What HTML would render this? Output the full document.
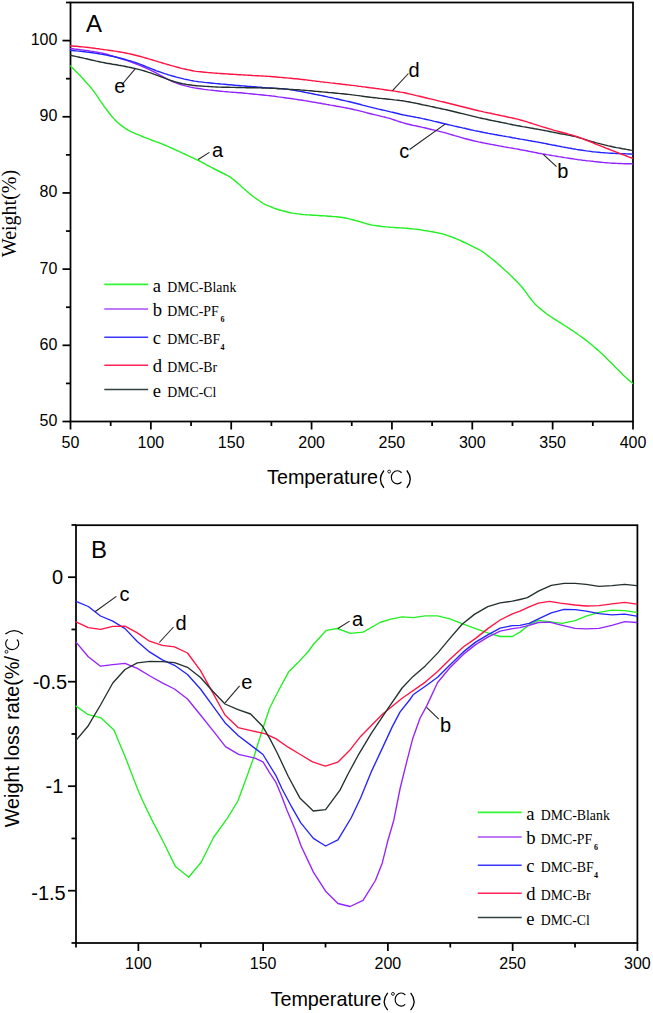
<!DOCTYPE html>
<html><head><meta charset="utf-8"><style>html,body{margin:0;padding:0;background:#fff;}svg{display:block;}</style></head>
<body>
<svg width="653" height="1013" viewBox="0 0 653 1013">
<rect width="653" height="1013" fill="#fff"/>
<rect x="70.5" y="2.5" width="562.5" height="419.0" fill="none" stroke="#000" stroke-width="1.75"/>
<line x1="70.50" y1="421.50" x2="70.50" y2="429.50" stroke="#000" stroke-width="1.75"/>
<text x="70.5" y="448.2" font-family='"Liberation Sans", sans-serif' font-size="16" text-anchor="middle" fill="#000" >50</text>
<line x1="110.68" y1="421.50" x2="110.68" y2="426.00" stroke="#000" stroke-width="1.75"/>
<line x1="150.86" y1="421.50" x2="150.86" y2="429.50" stroke="#000" stroke-width="1.75"/>
<text x="150.9" y="448.2" font-family='"Liberation Sans", sans-serif' font-size="16" text-anchor="middle" fill="#000" >100</text>
<line x1="191.04" y1="421.50" x2="191.04" y2="426.00" stroke="#000" stroke-width="1.75"/>
<line x1="231.21" y1="421.50" x2="231.21" y2="429.50" stroke="#000" stroke-width="1.75"/>
<text x="231.2" y="448.2" font-family='"Liberation Sans", sans-serif' font-size="16" text-anchor="middle" fill="#000" >150</text>
<line x1="271.39" y1="421.50" x2="271.39" y2="426.00" stroke="#000" stroke-width="1.75"/>
<line x1="311.57" y1="421.50" x2="311.57" y2="429.50" stroke="#000" stroke-width="1.75"/>
<text x="311.6" y="448.2" font-family='"Liberation Sans", sans-serif' font-size="16" text-anchor="middle" fill="#000" >200</text>
<line x1="351.75" y1="421.50" x2="351.75" y2="426.00" stroke="#000" stroke-width="1.75"/>
<line x1="391.93" y1="421.50" x2="391.93" y2="429.50" stroke="#000" stroke-width="1.75"/>
<text x="391.9" y="448.2" font-family='"Liberation Sans", sans-serif' font-size="16" text-anchor="middle" fill="#000" >250</text>
<line x1="432.11" y1="421.50" x2="432.11" y2="426.00" stroke="#000" stroke-width="1.75"/>
<line x1="472.29" y1="421.50" x2="472.29" y2="429.50" stroke="#000" stroke-width="1.75"/>
<text x="472.3" y="448.2" font-family='"Liberation Sans", sans-serif' font-size="16" text-anchor="middle" fill="#000" >300</text>
<line x1="512.46" y1="421.50" x2="512.46" y2="426.00" stroke="#000" stroke-width="1.75"/>
<line x1="552.64" y1="421.50" x2="552.64" y2="429.50" stroke="#000" stroke-width="1.75"/>
<text x="552.6" y="448.2" font-family='"Liberation Sans", sans-serif' font-size="16" text-anchor="middle" fill="#000" >350</text>
<line x1="592.82" y1="421.50" x2="592.82" y2="426.00" stroke="#000" stroke-width="1.75"/>
<line x1="633.00" y1="421.50" x2="633.00" y2="429.50" stroke="#000" stroke-width="1.75"/>
<text x="633.0" y="448.2" font-family='"Liberation Sans", sans-serif' font-size="16" text-anchor="middle" fill="#000" >400</text>
<line x1="62.50" y1="421.50" x2="70.50" y2="421.50" stroke="#000" stroke-width="1.75"/>
<text x="57.4" y="425.9" font-family='"Liberation Sans", sans-serif' font-size="16" text-anchor="end" fill="#000" >50</text>
<line x1="66.00" y1="383.41" x2="70.50" y2="383.41" stroke="#000" stroke-width="1.75"/>
<line x1="62.50" y1="345.32" x2="70.50" y2="345.32" stroke="#000" stroke-width="1.75"/>
<text x="57.4" y="349.7" font-family='"Liberation Sans", sans-serif' font-size="16" text-anchor="end" fill="#000" >60</text>
<line x1="66.00" y1="307.23" x2="70.50" y2="307.23" stroke="#000" stroke-width="1.75"/>
<line x1="62.50" y1="269.14" x2="70.50" y2="269.14" stroke="#000" stroke-width="1.75"/>
<text x="57.4" y="273.5" font-family='"Liberation Sans", sans-serif' font-size="16" text-anchor="end" fill="#000" >70</text>
<line x1="66.00" y1="231.05" x2="70.50" y2="231.05" stroke="#000" stroke-width="1.75"/>
<line x1="62.50" y1="192.95" x2="70.50" y2="192.95" stroke="#000" stroke-width="1.75"/>
<text x="57.4" y="197.4" font-family='"Liberation Sans", sans-serif' font-size="16" text-anchor="end" fill="#000" >80</text>
<line x1="66.00" y1="154.86" x2="70.50" y2="154.86" stroke="#000" stroke-width="1.75"/>
<line x1="62.50" y1="116.77" x2="70.50" y2="116.77" stroke="#000" stroke-width="1.75"/>
<text x="57.4" y="121.2" font-family='"Liberation Sans", sans-serif' font-size="16" text-anchor="end" fill="#000" >90</text>
<line x1="66.00" y1="78.68" x2="70.50" y2="78.68" stroke="#000" stroke-width="1.75"/>
<line x1="62.50" y1="40.59" x2="70.50" y2="40.59" stroke="#000" stroke-width="1.75"/>
<text x="57.4" y="45.0" font-family='"Liberation Sans", sans-serif' font-size="16" text-anchor="end" fill="#000" >100</text>
<line x1="66.00" y1="2.50" x2="70.50" y2="2.50" stroke="#000" stroke-width="1.75"/>
<text x="86" y="31.5" font-family='"Liberation Sans", sans-serif' font-size="24" text-anchor="start" fill="#000" >A</text>
<text x="267.0" y="484.1" font-family='"Liberation Sans", sans-serif' font-size="19.8" text-anchor="start" fill="#000" >Temperature</text>
<path d="M383.90,470.50 Q376.90,479.30 383.90,487.90" fill="none" stroke="#000" stroke-width="1.3"/>
<circle cx="389.15" cy="471.60" r="1.45" fill="none" stroke="#000" stroke-width="0.85"/>
<path d="M401.58,472.75 A5.95,6.55 0 1 0 401.43,482.01" fill="none" stroke="#000" stroke-width="1.15"/>
<path d="M406.80,470.50 Q413.80,479.30 406.80,487.90" fill="none" stroke="#000" stroke-width="1.3"/>
<text transform="translate(15.6,213.5) rotate(-90)" font-family='"Liberation Serif", serif' font-size="20" text-anchor="middle">Weight(%)</text>
<polyline points="70.5,66.0 72.5,68.0 74.5,70.0 76.5,72.0 78.5,74.0 80.5,76.1 82.5,78.3 84.5,80.5 86.5,82.7 88.5,84.9 90.5,87.2 92.5,89.6 94.5,92.3 96.5,95.2 98.5,98.1 100.5,101.1 102.5,103.9 104.5,106.8 106.5,109.5 108.5,112.2 110.5,114.7 112.5,117.1 114.5,119.4 116.5,121.5 118.5,123.3 120.5,124.9 122.5,126.4 124.5,127.8 126.5,129.1 128.5,130.3 130.5,131.4 132.5,132.4 134.5,133.2 136.5,134.1 138.5,134.8 140.5,135.6 142.5,136.5 144.5,137.3 146.5,138.1 148.5,138.9 150.5,139.7 152.5,140.5 154.5,141.2 156.5,141.9 158.5,142.6 160.5,143.3 162.5,144.1 164.5,145.0 166.5,145.9 168.5,146.7 170.5,147.6 172.5,148.5 174.5,149.4 176.5,150.3 178.5,151.2 180.5,152.2 182.5,153.1 184.5,154.0 186.5,154.9 188.5,155.9 190.5,156.8 192.5,157.7 194.5,158.6 196.5,159.6 198.5,160.5 200.5,161.5 202.5,162.6 204.5,163.7 206.5,164.8 208.5,165.8 210.5,166.9 212.5,168.0 214.5,169.0 216.5,170.0 218.5,171.0 220.5,172.0 222.5,173.0 224.5,174.0 226.5,175.0 228.5,176.1 230.5,177.4 232.5,178.8 234.5,180.4 236.5,182.1 238.5,183.8 240.5,185.6 242.5,187.4 244.5,189.2 246.5,191.0 248.5,192.7 250.5,194.4 252.5,196.0 254.5,197.5 256.5,198.9 258.5,200.3 260.5,201.7 262.5,203.0 264.5,204.1 266.5,205.1 268.5,205.9 270.5,206.7 272.5,207.5 274.5,208.3 276.5,209.0 278.5,209.7 280.5,210.2 282.5,210.8 284.5,211.3 286.5,211.8 288.5,212.3 290.5,212.7 292.5,213.1 294.5,213.4 296.5,213.7 298.5,213.9 300.5,214.2 302.5,214.5 304.5,214.6 306.5,214.8 308.5,214.9 310.5,215.0 312.5,215.2 314.5,215.3 316.5,215.4 318.5,215.5 320.5,215.7 322.5,215.8 324.5,215.9 326.5,216.0 328.5,216.2 330.5,216.3 332.5,216.5 334.5,216.6 336.5,216.8 338.5,217.0 340.5,217.2 342.5,217.5 344.5,217.8 346.5,218.2 348.5,218.6 350.5,219.2 352.5,219.7 354.5,220.2 356.5,220.8 358.5,221.3 360.5,221.9 362.5,222.5 364.5,223.1 366.5,223.7 368.5,224.2 370.5,224.7 372.5,225.1 374.5,225.4 376.5,225.7 378.5,226.0 380.5,226.3 382.5,226.6 384.5,226.8 386.5,226.9 388.5,227.1 390.5,227.3 392.5,227.4 394.5,227.5 396.5,227.7 398.5,227.8 400.5,227.9 402.5,228.0 404.5,228.1 406.5,228.3 408.5,228.5 410.5,228.7 412.5,228.9 414.5,229.1 416.5,229.3 418.5,229.5 420.5,229.8 422.5,230.1 424.5,230.5 426.5,230.8 428.5,231.1 430.5,231.5 432.5,231.8 434.5,232.2 436.5,232.6 438.5,233.0 440.5,233.4 442.5,233.9 444.5,234.5 446.5,235.2 448.5,235.8 450.5,236.5 452.5,237.2 454.5,238.0 456.5,238.8 458.5,239.7 460.5,240.6 462.5,241.5 464.5,242.5 466.5,243.4 468.5,244.4 470.5,245.4 472.5,246.4 474.5,247.4 476.5,248.4 478.5,249.4 480.5,250.5 482.5,251.7 484.5,253.0 486.5,254.5 488.5,256.1 490.5,257.7 492.5,259.3 494.5,260.9 496.5,262.6 498.5,264.4 500.5,266.1 502.5,267.9 504.5,269.7 506.5,271.5 508.5,273.3 510.5,275.3 512.5,277.2 514.5,279.2 516.5,281.3 518.5,283.3 520.5,285.4 522.5,287.8 524.5,290.3 526.5,293.1 528.5,295.8 530.5,298.5 532.5,301.1 534.5,303.4 536.5,305.5 538.5,307.3 540.5,308.9 542.5,310.5 544.5,312.1 546.5,313.7 548.5,315.1 550.5,316.5 552.5,317.8 554.5,319.1 556.5,320.4 558.5,321.6 560.5,322.9 562.5,324.2 564.5,325.5 566.5,326.7 568.5,328.0 570.5,329.3 572.5,330.6 574.5,332.0 576.5,333.3 578.5,334.8 580.5,336.2 582.5,337.6 584.5,339.1 586.5,340.6 588.5,342.2 590.5,343.8 592.5,345.5 594.5,347.2 596.5,348.9 598.5,350.6 600.5,352.4 602.5,354.3 604.5,356.3 606.5,358.3 608.5,360.3 610.5,362.3 612.5,364.3 614.5,366.3 616.5,368.3 618.5,370.3 620.5,372.3 622.5,374.3 624.5,376.2 626.5,378.1 628.5,379.9 630.5,381.5 632.5,383.2" fill="none" stroke="#22f022" stroke-width="1.4" stroke-linejoin="round" stroke-linecap="round"/>
<polyline points="70.5,48.5 72.5,48.7 74.5,49.0 76.5,49.2 78.5,49.4 80.5,49.7 82.5,49.9 84.5,50.2 86.5,50.4 88.5,50.7 90.5,51.1 92.5,51.4 94.5,51.8 96.5,52.1 98.5,52.5 100.5,52.9 102.5,53.3 104.5,53.8 106.5,54.3 108.5,54.8 110.5,55.4 112.5,56.0 114.5,56.6 116.5,57.2 118.5,57.9 120.5,58.5 122.5,59.1 124.5,59.8 126.5,60.4 128.5,61.1 130.5,61.8 132.5,62.5 134.5,63.3 136.5,64.0 138.5,64.8 140.5,65.7 142.5,66.5 144.5,67.4 146.5,68.3 148.5,69.2 150.5,70.2 152.5,71.2 154.5,72.2 156.5,73.2 158.5,74.3 160.5,75.4 162.5,76.4 164.5,77.5 166.5,78.6 168.5,79.6 170.5,80.6 172.5,81.5 174.5,82.4 176.5,83.2 178.5,83.9 180.5,84.5 182.5,85.1 184.5,85.6 186.5,86.1 188.5,86.6 190.5,87.1 192.5,87.5 194.5,87.9 196.5,88.2 198.5,88.5 200.5,88.8 202.5,89.1 204.5,89.4 206.5,89.6 208.5,89.9 210.5,90.1 212.5,90.3 214.5,90.6 216.5,90.8 218.5,91.0 220.5,91.2 222.5,91.4 224.5,91.6 226.5,91.7 228.5,91.9 230.5,92.1 232.5,92.2 234.5,92.4 236.5,92.5 238.5,92.7 240.5,92.8 242.5,93.0 244.5,93.2 246.5,93.4 248.5,93.6 250.5,93.8 252.5,94.0 254.5,94.2 256.5,94.4 258.5,94.6 260.5,94.8 262.5,95.0 264.5,95.2 266.5,95.4 268.5,95.6 270.5,95.8 272.5,96.1 274.5,96.3 276.5,96.6 278.5,96.9 280.5,97.1 282.5,97.4 284.5,97.7 286.5,98.0 288.5,98.2 290.5,98.5 292.5,98.8 294.5,99.1 296.5,99.4 298.5,99.7 300.5,100.0 302.5,100.3 304.5,100.6 306.5,100.9 308.5,101.3 310.5,101.6 312.5,102.0 314.5,102.3 316.5,102.6 318.5,103.0 320.5,103.3 322.5,103.7 324.5,104.0 326.5,104.4 328.5,104.7 330.5,105.1 332.5,105.4 334.5,105.8 336.5,106.2 338.5,106.5 340.5,106.9 342.5,107.3 344.5,107.6 346.5,108.0 348.5,108.4 350.5,108.8 352.5,109.2 354.5,109.7 356.5,110.1 358.5,110.6 360.5,111.1 362.5,111.6 364.5,112.1 366.5,112.7 368.5,113.2 370.5,113.7 372.5,114.2 374.5,114.6 376.5,115.1 378.5,115.6 380.5,116.1 382.5,116.6 384.5,117.0 386.5,117.6 388.5,118.1 390.5,118.7 392.5,119.3 394.5,120.0 396.5,120.7 398.5,121.3 400.5,122.0 402.5,122.6 404.5,123.2 406.5,123.7 408.5,124.2 410.5,124.7 412.5,125.2 414.5,125.6 416.5,126.0 418.5,126.5 420.5,126.9 422.5,127.4 424.5,127.8 426.5,128.3 428.5,128.8 430.5,129.2 432.5,129.7 434.5,130.1 436.5,130.6 438.5,131.1 440.5,131.6 442.5,132.1 444.5,132.6 446.5,133.2 448.5,133.8 450.5,134.4 452.5,135.0 454.5,135.6 456.5,136.1 458.5,136.7 460.5,137.3 462.5,137.9 464.5,138.5 466.5,139.0 468.5,139.5 470.5,140.0 472.5,140.5 474.5,141.0 476.5,141.4 478.5,141.9 480.5,142.3 482.5,142.7 484.5,143.1 486.5,143.5 488.5,143.9 490.5,144.3 492.5,144.6 494.5,145.0 496.5,145.4 498.5,145.8 500.5,146.1 502.5,146.5 504.5,146.9 506.5,147.2 508.5,147.6 510.5,147.9 512.5,148.2 514.5,148.6 516.5,148.9 518.5,149.3 520.5,149.7 522.5,150.0 524.5,150.4 526.5,150.8 528.5,151.2 530.5,151.6 532.5,152.0 534.5,152.4 536.5,152.8 538.5,153.2 540.5,153.5 542.5,153.9 544.5,154.2 546.5,154.6 548.5,154.9 550.5,155.2 552.5,155.6 554.5,155.9 556.5,156.2 558.5,156.6 560.5,156.9 562.5,157.2 564.5,157.6 566.5,157.9 568.5,158.2 570.5,158.5 572.5,158.8 574.5,159.1 576.5,159.4 578.5,159.7 580.5,159.9 582.5,160.2 584.5,160.4 586.5,160.7 588.5,160.9 590.5,161.1 592.5,161.3 594.5,161.6 596.5,161.8 598.5,162.0 600.5,162.2 602.5,162.4 604.5,162.6 606.5,162.7 608.5,162.9 610.5,163.1 612.5,163.2 614.5,163.3 616.5,163.4 618.5,163.5 620.5,163.5 622.5,163.6 624.5,163.7 626.5,163.7 628.5,163.8 630.5,163.8 632.5,163.9" fill="none" stroke="#9424ff" stroke-width="1.4" stroke-linejoin="round" stroke-linecap="round"/>
<polyline points="70.5,50.3 72.5,50.5 74.5,50.7 76.5,50.9 78.5,51.1 80.5,51.3 82.5,51.5 84.5,51.7 86.5,52.0 88.5,52.2 90.5,52.5 92.5,52.8 94.5,53.1 96.5,53.4 98.5,53.7 100.5,54.1 102.5,54.4 104.5,54.8 106.5,55.1 108.5,55.5 110.5,56.0 112.5,56.4 114.5,56.8 116.5,57.3 118.5,57.7 120.5,58.2 122.5,58.7 124.5,59.2 126.5,59.8 128.5,60.4 130.5,60.9 132.5,61.6 134.5,62.2 136.5,62.9 138.5,63.7 140.5,64.4 142.5,65.2 144.5,66.0 146.5,66.8 148.5,67.6 150.5,68.4 152.5,69.2 154.5,70.0 156.5,70.8 158.5,71.5 160.5,72.2 162.5,72.9 164.5,73.6 166.5,74.2 168.5,74.8 170.5,75.4 172.5,76.0 174.5,76.5 176.5,77.1 178.5,77.6 180.5,78.1 182.5,78.6 184.5,79.1 186.5,79.5 188.5,79.9 190.5,80.4 192.5,80.7 194.5,81.1 196.5,81.4 198.5,81.7 200.5,81.9 202.5,82.1 204.5,82.4 206.5,82.6 208.5,82.8 210.5,83.0 212.5,83.2 214.5,83.4 216.5,83.6 218.5,83.8 220.5,84.0 222.5,84.1 224.5,84.3 226.5,84.5 228.5,84.7 230.5,84.8 232.5,85.0 234.5,85.2 236.5,85.4 238.5,85.5 240.5,85.7 242.5,85.9 244.5,86.0 246.5,86.2 248.5,86.4 250.5,86.5 252.5,86.7 254.5,86.8 256.5,87.0 258.5,87.2 260.5,87.3 262.5,87.5 264.5,87.6 266.5,87.8 268.5,87.9 270.5,88.0 272.5,88.2 274.5,88.3 276.5,88.4 278.5,88.5 280.5,88.6 282.5,88.7 284.5,88.9 286.5,89.1 288.5,89.4 290.5,89.7 292.5,90.0 294.5,90.3 296.5,90.7 298.5,91.1 300.5,91.4 302.5,91.8 304.5,92.2 306.5,92.6 308.5,93.0 310.5,93.4 312.5,93.8 314.5,94.2 316.5,94.6 318.5,95.0 320.5,95.4 322.5,95.8 324.5,96.2 326.5,96.6 328.5,97.1 330.5,97.5 332.5,97.9 334.5,98.4 336.5,98.8 338.5,99.2 340.5,99.7 342.5,100.2 344.5,100.6 346.5,101.1 348.5,101.5 350.5,102.0 352.5,102.5 354.5,103.0 356.5,103.5 358.5,104.0 360.5,104.5 362.5,105.1 364.5,105.6 366.5,106.1 368.5,106.6 370.5,107.1 372.5,107.6 374.5,108.1 376.5,108.6 378.5,109.1 380.5,109.5 382.5,110.0 384.5,110.4 386.5,110.9 388.5,111.4 390.5,111.9 392.5,112.3 394.5,112.8 396.5,113.3 398.5,113.8 400.5,114.3 402.5,114.7 404.5,115.1 406.5,115.5 408.5,115.9 410.5,116.3 412.5,116.6 414.5,117.0 416.5,117.4 418.5,117.7 420.5,118.1 422.5,118.6 424.5,119.0 426.5,119.5 428.5,119.9 430.5,120.4 432.5,120.9 434.5,121.4 436.5,121.8 438.5,122.3 440.5,122.8 442.5,123.3 444.5,123.7 446.5,124.2 448.5,124.7 450.5,125.1 452.5,125.6 454.5,126.1 456.5,126.5 458.5,127.0 460.5,127.4 462.5,127.9 464.5,128.3 466.5,128.8 468.5,129.2 470.5,129.7 472.5,130.1 474.5,130.6 476.5,131.0 478.5,131.4 480.5,131.8 482.5,132.2 484.5,132.6 486.5,133.0 488.5,133.4 490.5,133.7 492.5,134.1 494.5,134.5 496.5,134.8 498.5,135.2 500.5,135.5 502.5,135.9 504.5,136.2 506.5,136.6 508.5,136.9 510.5,137.3 512.5,137.7 514.5,138.0 516.5,138.4 518.5,138.7 520.5,139.1 522.5,139.4 524.5,139.8 526.5,140.1 528.5,140.5 530.5,140.8 532.5,141.2 534.5,141.5 536.5,141.9 538.5,142.3 540.5,142.6 542.5,143.0 544.5,143.4 546.5,143.8 548.5,144.2 550.5,144.6 552.5,145.0 554.5,145.3 556.5,145.7 558.5,146.1 560.5,146.5 562.5,146.9 564.5,147.2 566.5,147.6 568.5,148.0 570.5,148.3 572.5,148.7 574.5,149.0 576.5,149.4 578.5,149.7 580.5,150.0 582.5,150.3 584.5,150.6 586.5,150.9 588.5,151.1 590.5,151.4 592.5,151.7 594.5,151.9 596.5,152.1 598.5,152.3 600.5,152.5 602.5,152.6 604.5,152.8 606.5,152.9 608.5,153.1 610.5,153.2 612.5,153.3 614.5,153.4 616.5,153.5 618.5,153.6 620.5,153.7 622.5,153.8 624.5,153.8 626.5,153.9 628.5,154.0 630.5,154.0 632.5,154.1" fill="none" stroke="#2424ff" stroke-width="1.4" stroke-linejoin="round" stroke-linecap="round"/>
<polyline points="70.5,55.2 72.5,55.7 74.5,56.1 76.5,56.6 78.5,57.0 80.5,57.5 82.5,57.9 84.5,58.4 86.5,58.8 88.5,59.3 90.5,59.7 92.5,60.2 94.5,60.6 96.5,61.1 98.5,61.5 100.5,62.0 102.5,62.4 104.5,62.8 106.5,63.2 108.5,63.5 110.5,63.8 112.5,64.2 114.5,64.5 116.5,64.8 118.5,65.2 120.5,65.5 122.5,65.9 124.5,66.3 126.5,66.7 128.5,67.1 130.5,67.5 132.5,68.0 134.5,68.4 136.5,68.9 138.5,69.4 140.5,69.9 142.5,70.4 144.5,71.0 146.5,71.6 148.5,72.3 150.5,72.9 152.5,73.6 154.5,74.4 156.5,75.1 158.5,75.8 160.5,76.6 162.5,77.4 164.5,78.1 166.5,78.9 168.5,79.6 170.5,80.3 172.5,81.0 174.5,81.6 176.5,82.2 178.5,82.7 180.5,83.2 182.5,83.7 184.5,84.0 186.5,84.4 188.5,84.7 190.5,85.0 192.5,85.3 194.5,85.5 196.5,85.7 198.5,85.9 200.5,86.0 202.5,86.1 204.5,86.3 206.5,86.4 208.5,86.5 210.5,86.6 212.5,86.8 214.5,86.9 216.5,87.0 218.5,87.1 220.5,87.1 222.5,87.2 224.5,87.3 226.5,87.3 228.5,87.3 230.5,87.4 232.5,87.4 234.5,87.4 236.5,87.5 238.5,87.5 240.5,87.5 242.5,87.6 244.5,87.6 246.5,87.7 248.5,87.7 250.5,87.7 252.5,87.8 254.5,87.8 256.5,87.8 258.5,87.9 260.5,87.9 262.5,88.0 264.5,88.0 266.5,88.1 268.5,88.1 270.5,88.2 272.5,88.3 274.5,88.4 276.5,88.5 278.5,88.7 280.5,88.8 282.5,88.9 284.5,89.0 286.5,89.1 288.5,89.3 290.5,89.4 292.5,89.5 294.5,89.6 296.5,89.7 298.5,89.8 300.5,90.0 302.5,90.1 304.5,90.3 306.5,90.4 308.5,90.6 310.5,90.8 312.5,91.0 314.5,91.2 316.5,91.4 318.5,91.5 320.5,91.7 322.5,91.9 324.5,92.1 326.5,92.3 328.5,92.5 330.5,92.6 332.5,92.8 334.5,93.0 336.5,93.2 338.5,93.4 340.5,93.6 342.5,93.8 344.5,94.0 346.5,94.2 348.5,94.4 350.5,94.6 352.5,94.9 354.5,95.1 356.5,95.4 358.5,95.6 360.5,95.9 362.5,96.2 364.5,96.5 366.5,96.7 368.5,97.0 370.5,97.3 372.5,97.5 374.5,97.7 376.5,97.9 378.5,98.2 380.5,98.4 382.5,98.6 384.5,98.8 386.5,99.0 388.5,99.2 390.5,99.4 392.5,99.6 394.5,99.9 396.5,100.1 398.5,100.3 400.5,100.6 402.5,100.8 404.5,101.1 406.5,101.5 408.5,101.8 410.5,102.2 412.5,102.6 414.5,103.0 416.5,103.4 418.5,103.8 420.5,104.2 422.5,104.7 424.5,105.1 426.5,105.5 428.5,105.9 430.5,106.4 432.5,106.8 434.5,107.2 436.5,107.7 438.5,108.1 440.5,108.5 442.5,109.0 444.5,109.4 446.5,109.8 448.5,110.3 450.5,110.7 452.5,111.2 454.5,111.7 456.5,112.2 458.5,112.7 460.5,113.2 462.5,113.6 464.5,114.1 466.5,114.6 468.5,115.1 470.5,115.6 472.5,116.1 474.5,116.6 476.5,117.1 478.5,117.6 480.5,118.0 482.5,118.5 484.5,118.9 486.5,119.3 488.5,119.8 490.5,120.2 492.5,120.6 494.5,121.0 496.5,121.4 498.5,121.8 500.5,122.2 502.5,122.6 504.5,123.0 506.5,123.4 508.5,123.9 510.5,124.3 512.5,124.7 514.5,125.1 516.5,125.5 518.5,125.8 520.5,126.2 522.5,126.6 524.5,126.9 526.5,127.3 528.5,127.6 530.5,128.0 532.5,128.3 534.5,128.7 536.5,129.0 538.5,129.4 540.5,129.8 542.5,130.1 544.5,130.5 546.5,130.9 548.5,131.3 550.5,131.7 552.5,132.1 554.5,132.5 556.5,132.9 558.5,133.3 560.5,133.7 562.5,134.0 564.5,134.4 566.5,134.8 568.5,135.1 570.5,135.5 572.5,136.0 574.5,136.4 576.5,136.9 578.5,137.5 580.5,138.1 582.5,138.7 584.5,139.3 586.5,139.9 588.5,140.6 590.5,141.2 592.5,141.8 594.5,142.3 596.5,142.9 598.5,143.4 600.5,143.9 602.5,144.4 604.5,144.9 606.5,145.4 608.5,145.9 610.5,146.3 612.5,146.8 614.5,147.2 616.5,147.6 618.5,147.9 620.5,148.3 622.5,148.7 624.5,149.0 626.5,149.4 628.5,149.7 630.5,150.1 632.5,150.4" fill="none" stroke="#243030" stroke-width="1.4" stroke-linejoin="round" stroke-linecap="round"/>
<polyline points="70.5,45.8 72.5,46.0 74.5,46.2 76.5,46.3 78.5,46.5 80.5,46.7 82.5,46.9 84.5,47.1 86.5,47.3 88.5,47.5 90.5,47.8 92.5,48.0 94.5,48.3 96.5,48.6 98.5,48.8 100.5,49.1 102.5,49.4 104.5,49.7 106.5,49.9 108.5,50.2 110.5,50.5 112.5,50.8 114.5,51.1 116.5,51.4 118.5,51.7 120.5,52.0 122.5,52.4 124.5,52.8 126.5,53.2 128.5,53.6 130.5,54.0 132.5,54.5 134.5,55.0 136.5,55.5 138.5,56.0 140.5,56.5 142.5,57.1 144.5,57.7 146.5,58.2 148.5,58.8 150.5,59.4 152.5,60.0 154.5,60.6 156.5,61.2 158.5,61.8 160.5,62.4 162.5,63.0 164.5,63.6 166.5,64.2 168.5,64.7 170.5,65.3 172.5,65.9 174.5,66.4 176.5,67.0 178.5,67.5 180.5,68.1 182.5,68.6 184.5,69.0 186.5,69.5 188.5,69.9 190.5,70.3 192.5,70.7 194.5,71.1 196.5,71.4 198.5,71.6 200.5,71.8 202.5,72.0 204.5,72.2 206.5,72.4 208.5,72.6 210.5,72.7 212.5,72.9 214.5,73.1 216.5,73.2 218.5,73.4 220.5,73.5 222.5,73.7 224.5,73.8 226.5,73.9 228.5,74.0 230.5,74.2 232.5,74.3 234.5,74.4 236.5,74.5 238.5,74.7 240.5,74.8 242.5,74.9 244.5,75.0 246.5,75.1 248.5,75.2 250.5,75.3 252.5,75.5 254.5,75.6 256.5,75.7 258.5,75.8 260.5,75.9 262.5,76.0 264.5,76.1 266.5,76.2 268.5,76.4 270.5,76.5 272.5,76.7 274.5,76.8 276.5,77.0 278.5,77.2 280.5,77.4 282.5,77.5 284.5,77.7 286.5,77.9 288.5,78.1 290.5,78.3 292.5,78.5 294.5,78.7 296.5,78.8 298.5,79.0 300.5,79.3 302.5,79.5 304.5,79.7 306.5,79.9 308.5,80.2 310.5,80.4 312.5,80.7 314.5,80.9 316.5,81.2 318.5,81.4 320.5,81.7 322.5,81.9 324.5,82.2 326.5,82.4 328.5,82.6 330.5,82.9 332.5,83.1 334.5,83.3 336.5,83.6 338.5,83.8 340.5,84.0 342.5,84.3 344.5,84.5 346.5,84.7 348.5,84.9 350.5,85.2 352.5,85.4 354.5,85.6 356.5,85.9 358.5,86.2 360.5,86.4 362.5,86.7 364.5,86.9 366.5,87.2 368.5,87.5 370.5,87.8 372.5,88.0 374.5,88.3 376.5,88.6 378.5,88.8 380.5,89.1 382.5,89.4 384.5,89.7 386.5,90.0 388.5,90.3 390.5,90.5 392.5,90.8 394.5,91.1 396.5,91.4 398.5,91.7 400.5,92.1 402.5,92.4 404.5,92.8 406.5,93.2 408.5,93.7 410.5,94.1 412.5,94.6 414.5,95.1 416.5,95.6 418.5,96.0 420.5,96.5 422.5,97.0 424.5,97.5 426.5,98.0 428.5,98.5 430.5,98.9 432.5,99.4 434.5,99.9 436.5,100.4 438.5,100.9 440.5,101.4 442.5,101.8 444.5,102.3 446.5,102.8 448.5,103.3 450.5,103.8 452.5,104.3 454.5,104.8 456.5,105.3 458.5,105.8 460.5,106.3 462.5,106.7 464.5,107.2 466.5,107.7 468.5,108.2 470.5,108.7 472.5,109.2 474.5,109.7 476.5,110.2 478.5,110.7 480.5,111.1 482.5,111.6 484.5,112.1 486.5,112.5 488.5,112.9 490.5,113.3 492.5,113.8 494.5,114.2 496.5,114.6 498.5,115.0 500.5,115.5 502.5,115.9 504.5,116.3 506.5,116.7 508.5,117.2 510.5,117.6 512.5,118.0 514.5,118.5 516.5,118.9 518.5,119.4 520.5,120.0 522.5,120.5 524.5,121.1 526.5,121.7 528.5,122.4 530.5,123.0 532.5,123.7 534.5,124.3 536.5,124.9 538.5,125.6 540.5,126.2 542.5,126.8 544.5,127.4 546.5,128.0 548.5,128.6 550.5,129.2 552.5,129.8 554.5,130.4 556.5,130.9 558.5,131.5 560.5,132.0 562.5,132.5 564.5,133.0 566.5,133.5 568.5,134.1 570.5,134.6 572.5,135.2 574.5,135.8 576.5,136.5 578.5,137.2 580.5,137.9 582.5,138.7 584.5,139.5 586.5,140.3 588.5,141.1 590.5,141.9 592.5,142.7 594.5,143.5 596.5,144.3 598.5,145.1 600.5,145.9 602.5,146.7 604.5,147.5 606.5,148.3 608.5,149.0 610.5,149.8 612.5,150.6 614.5,151.4 616.5,152.2 618.5,152.9 620.5,153.7 622.5,154.5 624.5,155.2 626.5,156.0 628.5,156.8 630.5,157.5 632.5,158.3" fill="none" stroke="#ff1444" stroke-width="1.4" stroke-linejoin="round" stroke-linecap="round"/>
<line x1="135.50" y1="68.40" x2="122.10" y2="84.50" stroke="#222" stroke-width="1.1"/>
<line x1="198.20" y1="159.50" x2="209.40" y2="152.40" stroke="#222" stroke-width="1.1"/>
<line x1="392.50" y1="90.60" x2="408.40" y2="73.50" stroke="#222" stroke-width="1.1"/>
<line x1="445.10" y1="124.10" x2="409.60" y2="149.50" stroke="#222" stroke-width="1.1"/>
<line x1="543.00" y1="154.10" x2="556.50" y2="166.60" stroke="#222" stroke-width="1.1"/>
<text x="114.2" y="93.0" font-family='"Liberation Sans", sans-serif' font-size="20" text-anchor="start" fill="#000" >e</text>
<text x="212.0" y="157.0" font-family='"Liberation Sans", sans-serif' font-size="20" text-anchor="start" fill="#000" >a</text>
<text x="408.5" y="77.3" font-family='"Liberation Sans", sans-serif' font-size="20" text-anchor="start" fill="#000" >d</text>
<text x="399.3" y="158.0" font-family='"Liberation Sans", sans-serif' font-size="20" text-anchor="start" fill="#000" >c</text>
<text x="557.3" y="178.3" font-family='"Liberation Sans", sans-serif' font-size="20" text-anchor="start" fill="#000" >b</text>
<line x1="104.30" y1="284.40" x2="148.20" y2="284.40" stroke="#33f533" stroke-width="1.6"/>
<text x="152.8" y="291.5" font-family='"Liberation Serif", serif' font-size="18.6" text-anchor="start" fill="#000" >a</text>
<text x="167.3" y="291.5" font-family='"Liberation Serif", serif' font-size="13.8" text-anchor="start" fill="#000" >DMC-Blank</text>
<line x1="104.30" y1="309.00" x2="148.20" y2="309.00" stroke="#a84cff" stroke-width="1.6"/>
<text x="152.8" y="316.0" font-family='"Liberation Serif", serif' font-size="18.6" text-anchor="start" fill="#000" >b</text>
<text x="167.3" y="316.0" font-family='"Liberation Serif", serif' font-size="13.8" text-anchor="start" fill="#000" >DMC-PF</text>
<text x="220.4" y="321.6" font-family='"Liberation Serif", serif' font-size="8" text-anchor="start" fill="#000" font-weight="bold">6</text>
<line x1="104.30" y1="337.20" x2="148.20" y2="337.20" stroke="#3838ff" stroke-width="1.6"/>
<text x="152.8" y="344.3" font-family='"Liberation Serif", serif' font-size="18.6" text-anchor="start" fill="#000" >c</text>
<text x="167.3" y="344.3" font-family='"Liberation Serif", serif' font-size="13.8" text-anchor="start" fill="#000" >DMC-BF</text>
<text x="220.4" y="349.9" font-family='"Liberation Serif", serif' font-size="8" text-anchor="start" fill="#000" font-weight="bold">4</text>
<line x1="104.30" y1="365.30" x2="148.20" y2="365.30" stroke="#ff2458" stroke-width="1.6"/>
<text x="152.8" y="372.4" font-family='"Liberation Serif", serif' font-size="18.6" text-anchor="start" fill="#000" >d</text>
<text x="167.3" y="372.4" font-family='"Liberation Serif", serif' font-size="13.8" text-anchor="start" fill="#000" >DMC-Br</text>
<line x1="104.30" y1="389.50" x2="148.20" y2="389.50" stroke="#334040" stroke-width="1.6"/>
<text x="152.8" y="397.0" font-family='"Liberation Serif", serif' font-size="18.6" text-anchor="start" fill="#000" >e</text>
<text x="167.3" y="397.0" font-family='"Liberation Serif", serif' font-size="13.8" text-anchor="start" fill="#000" >DMC-Cl</text>
<rect x="76.0" y="525.2" width="561.4" height="417.79999999999995" fill="none" stroke="#000" stroke-width="1.75"/>
<line x1="76.00" y1="943.00" x2="76.00" y2="947.50" stroke="#000" stroke-width="1.75"/>
<line x1="138.38" y1="943.00" x2="138.38" y2="951.00" stroke="#000" stroke-width="1.75"/>
<text x="138.4" y="969.3" font-family='"Liberation Sans", sans-serif' font-size="16" text-anchor="middle" fill="#000" >100</text>
<line x1="200.76" y1="943.00" x2="200.76" y2="947.50" stroke="#000" stroke-width="1.75"/>
<line x1="263.13" y1="943.00" x2="263.13" y2="951.00" stroke="#000" stroke-width="1.75"/>
<text x="263.1" y="969.3" font-family='"Liberation Sans", sans-serif' font-size="16" text-anchor="middle" fill="#000" >150</text>
<line x1="325.51" y1="943.00" x2="325.51" y2="947.50" stroke="#000" stroke-width="1.75"/>
<line x1="387.89" y1="943.00" x2="387.89" y2="951.00" stroke="#000" stroke-width="1.75"/>
<text x="387.9" y="969.3" font-family='"Liberation Sans", sans-serif' font-size="16" text-anchor="middle" fill="#000" >200</text>
<line x1="450.27" y1="943.00" x2="450.27" y2="947.50" stroke="#000" stroke-width="1.75"/>
<line x1="512.64" y1="943.00" x2="512.64" y2="951.00" stroke="#000" stroke-width="1.75"/>
<text x="512.6" y="969.3" font-family='"Liberation Sans", sans-serif' font-size="16" text-anchor="middle" fill="#000" >250</text>
<line x1="575.02" y1="943.00" x2="575.02" y2="947.50" stroke="#000" stroke-width="1.75"/>
<line x1="637.40" y1="943.00" x2="637.40" y2="951.00" stroke="#000" stroke-width="1.75"/>
<text x="637.4" y="969.3" font-family='"Liberation Sans", sans-serif' font-size="16" text-anchor="middle" fill="#000" >300</text>
<line x1="71.50" y1="942.95" x2="76.00" y2="942.95" stroke="#000" stroke-width="1.75"/>
<line x1="68.00" y1="890.70" x2="76.00" y2="890.70" stroke="#000" stroke-width="1.75"/>
<line x1="71.50" y1="838.45" x2="76.00" y2="838.45" stroke="#000" stroke-width="1.75"/>
<line x1="68.00" y1="786.20" x2="76.00" y2="786.20" stroke="#000" stroke-width="1.75"/>
<line x1="71.50" y1="733.95" x2="76.00" y2="733.95" stroke="#000" stroke-width="1.75"/>
<line x1="68.00" y1="681.70" x2="76.00" y2="681.70" stroke="#000" stroke-width="1.75"/>
<line x1="71.50" y1="629.45" x2="76.00" y2="629.45" stroke="#000" stroke-width="1.75"/>
<line x1="68.00" y1="577.20" x2="76.00" y2="577.20" stroke="#000" stroke-width="1.75"/>
<line x1="71.50" y1="524.95" x2="76.00" y2="524.95" stroke="#000" stroke-width="1.75"/>
<text x="63.2" y="584.0" font-family='"Liberation Sans", sans-serif' font-size="20" text-anchor="end" fill="#000" >0</text>
<text x="67.1" y="688.5" font-family='"Liberation Sans", sans-serif' font-size="20" text-anchor="end" fill="#000" >-0.5</text>
<text x="63.4" y="792.7" font-family='"Liberation Sans", sans-serif' font-size="20" text-anchor="end" fill="#000" >-1</text>
<text x="65.7" y="899.5" font-family='"Liberation Sans", sans-serif' font-size="20" text-anchor="end" fill="#000" >-1.5</text>
<text x="91" y="558.0" font-family='"Liberation Sans", sans-serif' font-size="24" text-anchor="start" fill="#000" >B</text>
<text x="270.5" y="1006.4" font-family='"Liberation Sans", sans-serif' font-size="19.8" text-anchor="start" fill="#000" >Temperature</text>
<path d="M387.70,992.80 Q380.70,1001.60 387.70,1010.20" fill="none" stroke="#000" stroke-width="1.3"/>
<circle cx="392.95" cy="993.90" r="1.45" fill="none" stroke="#000" stroke-width="0.85"/>
<path d="M405.38,995.05 A5.95,6.55 0 1 0 405.23,1004.31" fill="none" stroke="#000" stroke-width="1.15"/>
<path d="M410.60,992.80 Q417.60,1001.60 410.60,1010.20" fill="none" stroke="#000" stroke-width="1.3"/>
<g transform="translate(19.0,827.2) rotate(-90)"><text x="0" y="0" font-family='"Liberation Sans", sans-serif' font-size="19.8">Weight loss rate(%/</text>
<circle cx="175.45" cy="-12.50" r="1.45" fill="none" stroke="#000" stroke-width="0.85"/>
<path d="M187.88,-11.35 A5.95,6.55 0 1 0 187.73,-2.09" fill="none" stroke="#000" stroke-width="1.15"/>
<path d="M193.10,-13.60 Q200.10,-4.80 193.10,3.80" fill="none" stroke="#000" stroke-width="1.3"/>
</g>
<polyline points="76.0,706.1 88.3,714.7 100.5,717.6 114.0,729.9 125.0,756.4 137.3,788.2 142.3,800.0 151.5,819.1 163.0,841.3 175.5,866.6 188.7,877.3 201.3,862.0 213.5,837.5 227.3,818.4 237.9,801.0 245.8,779.6 253.7,757.5 261.6,732.2 269.5,708.5 277.4,692.7 288.5,672.1 298.0,662.6 308.3,651.5 313.3,644.5 326.4,630.3 337.5,628.5 350.3,633.3 363.2,632.2 380.0,622.5 389.8,619.3 402.1,616.9 413.1,617.6 425.3,615.9 437.6,615.9 449.9,618.8 463.3,624.2 475.6,628.6 487.8,632.8 500.1,636.5 512.4,636.5 520.0,632.1 529.2,624.7 538.4,620.3 549.4,621.6 562.3,623.4 575.1,620.7 586.2,616.1 599.0,612.4 611.9,610.2 624.8,610.6 636.7,612.4" fill="none" stroke="#22f022" stroke-width="1.35" stroke-linejoin="round" stroke-linecap="round"/>
<polyline points="76.0,642.1 88.3,656.8 100.5,666.2 112.8,664.7 125.0,663.3 137.3,668.4 150.0,676.0 162.3,682.9 174.5,689.0 187.5,699.0 200.5,715.0 212.8,730.4 225.5,746.6 238.6,754.3 255.0,758.2 263.0,761.9 269.7,772.9 275.8,782.1 280.7,793.7 286.9,810.0 295.0,829.2 301.1,846.0 313.4,872.1 325.6,891.2 337.9,903.5 350.1,906.5 363.1,900.4 375.4,880.5 382.3,862.9 387.4,842.3 393.8,820.2 400.1,788.5 406.4,763.2 412.7,738.7 420.0,718.2 426.6,706.1 437.6,682.5 449.9,667.8 463.3,654.4 475.6,644.6 487.8,637.2 500.1,631.1 512.4,628.6 520.0,627.6 529.2,625.3 538.4,622.5 549.4,622.1 562.3,625.3 575.1,628.4 586.2,628.9 599.0,628.4 611.9,625.3 624.8,621.6 636.7,622.5" fill="none" stroke="#9424ff" stroke-width="1.35" stroke-linejoin="round" stroke-linecap="round"/>
<polyline points="76.0,601.3 88.3,606.5 100.5,616.0 112.8,621.2 125.0,628.6 137.3,641.5 149.5,651.9 162.3,659.9 174.5,665.3 187.5,674.5 200.5,689.0 212.8,705.8 225.0,722.7 238.1,735.5 255.0,748.4 263.0,754.5 269.7,765.5 275.8,775.3 282.0,788.8 291.8,807.2 300.8,822.9 313.4,838.4 325.6,846.0 337.9,839.9 351.1,818.0 360.6,798.0 371.6,771.1 382.7,747.4 392.2,726.9 400.1,711.9 409.6,700.0 413.1,694.8 425.3,686.2 437.6,677.2 449.9,664.9 463.3,651.9 475.6,642.1 487.8,634.8 500.1,628.1 512.4,625.7 520.0,625.3 529.2,623.4 538.4,618.8 551.3,612.9 564.1,609.3 575.1,609.6 586.2,611.1 599.0,613.7 611.9,614.8 624.8,614.2 636.7,616.1" fill="none" stroke="#2424ff" stroke-width="1.35" stroke-linejoin="round" stroke-linecap="round"/>
<polyline points="76.0,621.9 88.3,627.7 100.5,629.4 112.8,626.4 125.0,626.1 137.3,632.9 149.5,641.2 162.3,645.4 174.5,646.9 187.5,653.0 200.5,670.6 212.8,692.8 225.0,715.0 238.1,727.6 250.0,730.4 264.8,733.7 275.8,738.6 288.1,747.2 300.3,754.5 312.6,761.9 325.4,766.1 337.8,762.2 349.5,750.6 360.6,736.4 371.6,725.3 382.7,714.0 402.1,698.3 425.3,682.1 437.6,671.5 449.9,659.3 463.3,647.0 475.6,638.4 487.8,628.6 500.1,620.0 512.4,613.9 520.0,611.1 529.2,606.9 538.4,603.2 549.4,601.4 560.4,603.2 575.1,605.0 586.2,606.0 599.0,605.6 611.9,603.8 624.8,602.3 636.7,604.1" fill="none" stroke="#ff1444" stroke-width="1.35" stroke-linejoin="round" stroke-linecap="round"/>
<polyline points="76.0,740.4 88.3,725.7 100.5,705.0 112.8,683.0 125.0,669.5 137.3,662.8 150.0,661.4 162.3,661.7 174.5,662.7 187.5,667.3 200.5,677.5 212.8,691.3 225.0,704.0 238.1,709.7 250.6,714.0 262.6,726.3 269.8,738.6 277.0,752.5 288.3,776.5 299.8,797.9 313.3,811.0 325.6,809.7 335.0,796.8 340.0,790.1 347.9,774.3 359.0,753.8 371.6,732.8 382.7,716.4 389.8,705.9 402.1,688.0 413.1,676.4 425.3,665.9 437.6,653.1 449.9,638.4 462.1,624.2 474.4,614.4 487.8,606.6 500.1,602.9 512.4,601.2 520.0,599.5 527.4,597.7 538.4,591.2 551.3,585.4 564.1,583.3 575.1,583.3 586.2,584.4 599.0,586.3 611.9,585.7 624.8,584.3 636.7,585.7" fill="none" stroke="#243030" stroke-width="1.35" stroke-linejoin="round" stroke-linecap="round"/>
<line x1="95.00" y1="611.80" x2="116.40" y2="596.40" stroke="#222" stroke-width="1.1"/>
<line x1="159.30" y1="642.50" x2="173.50" y2="627.00" stroke="#222" stroke-width="1.1"/>
<line x1="225.00" y1="702.80" x2="239.60" y2="685.90" stroke="#222" stroke-width="1.1"/>
<line x1="337.90" y1="628.50" x2="349.60" y2="621.10" stroke="#222" stroke-width="1.1"/>
<line x1="426.60" y1="707.40" x2="438.80" y2="719.10" stroke="#222" stroke-width="1.1"/>
<text x="119.4" y="600.7" font-family='"Liberation Sans", sans-serif' font-size="20" text-anchor="start" fill="#000" >c</text>
<text x="175.5" y="630.0" font-family='"Liberation Sans", sans-serif' font-size="20" text-anchor="start" fill="#000" >d</text>
<text x="241.3" y="689.0" font-family='"Liberation Sans", sans-serif' font-size="20" text-anchor="start" fill="#000" >e</text>
<text x="352.1" y="626.4" font-family='"Liberation Sans", sans-serif' font-size="20" text-anchor="start" fill="#000" >a</text>
<text x="440.1" y="731.6" font-family='"Liberation Sans", sans-serif' font-size="20" text-anchor="start" fill="#000" >b</text>
<line x1="477.80" y1="812.40" x2="521.70" y2="812.40" stroke="#33f533" stroke-width="1.6"/>
<text x="526.3" y="819.5" font-family='"Liberation Serif", serif' font-size="18.6" text-anchor="start" fill="#000" >a</text>
<text x="540.8" y="819.5" font-family='"Liberation Serif", serif' font-size="13.8" text-anchor="start" fill="#000" >DMC-Blank</text>
<line x1="477.80" y1="837.00" x2="521.70" y2="837.00" stroke="#a84cff" stroke-width="1.6"/>
<text x="526.3" y="844.0" font-family='"Liberation Serif", serif' font-size="18.6" text-anchor="start" fill="#000" >b</text>
<text x="540.8" y="844.0" font-family='"Liberation Serif", serif' font-size="13.8" text-anchor="start" fill="#000" >DMC-PF</text>
<text x="593.9" y="849.6" font-family='"Liberation Serif", serif' font-size="8" text-anchor="start" fill="#000" font-weight="bold">6</text>
<line x1="477.80" y1="865.20" x2="521.70" y2="865.20" stroke="#3838ff" stroke-width="1.6"/>
<text x="526.3" y="872.3" font-family='"Liberation Serif", serif' font-size="18.6" text-anchor="start" fill="#000" >c</text>
<text x="540.8" y="872.3" font-family='"Liberation Serif", serif' font-size="13.8" text-anchor="start" fill="#000" >DMC-BF</text>
<text x="593.9" y="877.9" font-family='"Liberation Serif", serif' font-size="8" text-anchor="start" fill="#000" font-weight="bold">4</text>
<line x1="477.80" y1="893.30" x2="521.70" y2="893.30" stroke="#ff2458" stroke-width="1.6"/>
<text x="526.3" y="900.4" font-family='"Liberation Serif", serif' font-size="18.6" text-anchor="start" fill="#000" >d</text>
<text x="540.8" y="900.4" font-family='"Liberation Serif", serif' font-size="13.8" text-anchor="start" fill="#000" >DMC-Br</text>
<line x1="477.80" y1="917.50" x2="521.70" y2="917.50" stroke="#334040" stroke-width="1.6"/>
<text x="526.3" y="925.0" font-family='"Liberation Serif", serif' font-size="18.6" text-anchor="start" fill="#000" >e</text>
<text x="540.8" y="925.0" font-family='"Liberation Serif", serif' font-size="13.8" text-anchor="start" fill="#000" >DMC-Cl</text>
</svg>
</body></html>
